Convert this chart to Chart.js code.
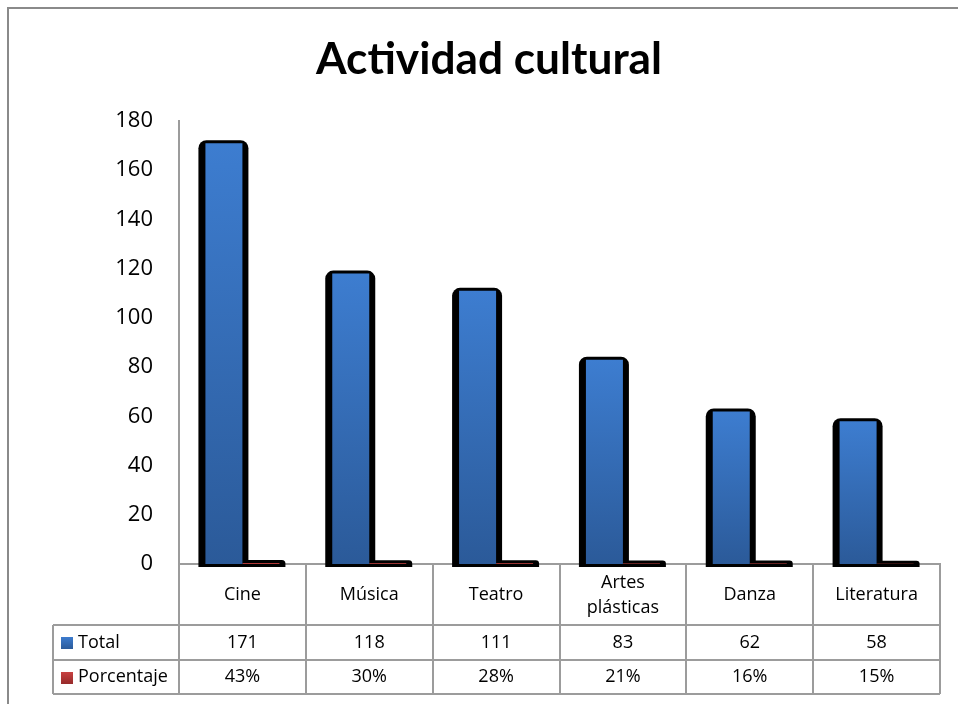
<!DOCTYPE html>
<html>
<head>
<meta charset="utf-8">
<script src="https://cdn.jsdelivr.net/npm/chart.js@4.4.1/dist/chart.umd.min.js"></script>
<style>
  html, body { margin: 0; padding: 0; background: #ffffff; }
  #wrap { width: 958px; height: 704px; }
</style>
</head>
<body>
<div id="wrap"><canvas id="c" width="958" height="704"></canvas></div>
<script>
// ---- data ----
const categories = [['Cine'], ['Música'], ['Teatro'], ['Artes', 'plásticas'], ['Danza'], ['Literatura']];
const seriesNames = ['Total', 'Porcentaje'];
const totalValues = [171, 118, 111, 83, 62, 58];
const porcentajeValues = [0.43, 0.30, 0.28, 0.21, 0.16, 0.15];
const yMin = 0, yMax = 180, yStep = 20;
const titleText = 'Actividad cultural';

const BODY_FONT = '"Open Sans", "Noto Sans", sans-serif';
const GRID = '#9c9c9c';

function barGradient(top, bottom) {
  return function (ctx) {
    const chart = ctx.chart;
    const ys = chart.scales && chart.scales.y;
    if (!ys || !chart.chartArea || ctx.type !== 'data') return top;
    const v = ctx.parsed ? ctx.parsed.y : ctx.raw;
    const p0 = ys.getPixelForValue(0), p1 = ys.getPixelForValue(v);
    if (!isFinite(p0) || !isFinite(p1) || Math.abs(p0 - p1) < 1) return top;
    const g = chart.ctx.createLinearGradient(0, p1, 0, p0);
    g.addColorStop(0, top);
    g.addColorStop(1, bottom);
    return g;
  };
}

const frameTitleShadow = {
  id: 'frameTitleShadow',
  beforeDraw(chart) {
    const c = chart.ctx;
    c.save();
    c.strokeStyle = '#8a8a8a';
    c.lineWidth = 2;
    c.beginPath();
    c.moveTo(8, 704);
    c.lineTo(8, 8);
    c.lineTo(958, 8);
    c.stroke();
    // title (condensed bold, like the original)
    c.fillStyle = '#000';
    c.font = 'bold 43px Lato, "Open Sans", sans-serif';
    c.textAlign = 'center';
    c.textBaseline = 'alphabetic';
    const w = c.measureText(titleText).width;
    const sx = 346 / w;
    c.translate(489, 74);
    c.scale(sx, 1);
    c.fillText(titleText, 0, 0);
    c.restore();
  },
  beforeDatasetsDraw(chart) {
    const c = chart.ctx;
    c.save();
    c.fillStyle = '#000000';
    chart.data.datasets.forEach((ds, i) => {
      const meta = chart.getDatasetMeta(i);
      meta.data.forEach(el => {
        const p = el.getProps(['x', 'y', 'base', 'width'], true);
        const l = p.x - p.width / 2 - 7, r = p.x + p.width / 2 + 6;
        const t = Math.min(p.y, p.base) - 3, b = p.base + 3;
        const rad = Math.min(8, (b - t) / 2, (r - l) / 2);
        c.beginPath();
        c.moveTo(l, b);
        c.lineTo(l, t + rad);
        c.arcTo(l, t, l + rad, t, rad);
        c.lineTo(r - rad, t);
        c.arcTo(r, t, r, t + rad, rad);
        c.lineTo(r, b);
        c.closePath();
        c.fill();
      });
    });
    c.restore();
  }
};

const dataTable = {
  id: 'dataTable',
  afterDraw(chart) {
    const c = chart.ctx;
    const xs = chart.scales.x;
    const top = xs.top;
    const hdrBottom = top + 61, row1Bottom = top + 96, row2Bottom = top + 130;
    const labelLeft = 53;
    c.save();
    c.strokeStyle = GRID;
    c.lineWidth = 2;
    c.beginPath();
    for (let i = 0; i <= categories.length; i++) {
      const px = Math.round(xs.getPixelForValue(i - 0.5));
      c.moveTo(px, top);
      c.lineTo(px, row2Bottom);
    }
    [hdrBottom, row1Bottom, row2Bottom].forEach(yy => {
      c.moveTo(labelLeft, yy);
      c.lineTo(xs.right, yy);
    });
    c.moveTo(labelLeft, hdrBottom);
    c.lineTo(labelLeft, row2Bottom);
    c.stroke();

    c.fillStyle = '#000';
    c.textAlign = 'center';
    c.textBaseline = 'middle';
    c.font = '18px ' + BODY_FONT;
    const hdrMid = (top + hdrBottom) / 2 + 0.5;
    categories.forEach((lab, i) => {
      const cx = xs.getPixelForValue(i);
      const lh = 25;
      const startY = hdrMid - (lab.length - 1) * lh / 2;
      lab.forEach((line, k) => c.fillText(line, cx, startY + k * lh));
    });
    const r1 = (hdrBottom + row1Bottom) / 2, r2 = (row1Bottom + row2Bottom) / 2;
    totalValues.forEach((v, i) => c.fillText(String(v), xs.getPixelForValue(i), r1));
    porcentajeValues.forEach((v, i) => c.fillText(Math.round(v * 100) + '%', xs.getPixelForValue(i), r2));

    // row headers with legend keys
    const keys = [['#3d7dd0', '#2c5c9c'], ['#cc4444', '#9a2c2c']];
    [r1, r2].forEach((ry, k) => {
      const g = c.createLinearGradient(0, ry - 6, 0, ry + 6);
      g.addColorStop(0, keys[k][0]);
      g.addColorStop(1, keys[k][1]);
      c.fillStyle = g;
      c.fillRect(61, Math.round(ry - 5.5), 12, 12);
      c.fillStyle = '#000';
      c.textAlign = 'left';
      c.fillText(seriesNames[k], 78, ry);
    });
    c.restore();
  }
};

new Chart(document.getElementById('c'), {
  type: 'bar',
  data: {
    labels: categories,
    datasets: [
      {
        label: seriesNames[0],
        data: totalValues,
        backgroundColor: barGradient('#3d7dd0', '#2b5a99'),
        borderWidth: 0
      },
      {
        label: seriesNames[1],
        data: porcentajeValues,
        backgroundColor: barGradient('#cc4444', '#9a2c2c'),
        borderWidth: 0
      }
    ]
  },
  options: {
    responsive: false,
    animation: false,
    events: [],
    devicePixelRatio: 1,
    layout: { padding: { left: 0, right: 18, top: 121, bottom: 10 } },
    categoryPercentage: 0.5834,
    barPercentage: 1.0,
    plugins: {
      legend: { display: false },
      tooltip: { enabled: false },
      title: { display: false }
    },
    scales: {
      x: {
        offset: true,
        grid: { display: false, drawTicks: false },
        border: { display: true, color: GRID, width: 2 },
        ticks: { display: false },
        afterFit(scale) { scale.height = 130; }
      },
      y: {
        min: yMin,
        max: yMax,
        grid: { display: false, drawTicks: false },
        border: { display: true, color: GRID, width: 2 },
        ticks: {
          stepSize: yStep,
          padding: 26,
          color: '#000',
          font: { family: BODY_FONT, size: 22 }
        },
        afterFit(scale) { scale.width = 179; }
      }
    }
  },
  plugins: [frameTitleShadow, dataTable]
});
</script>
</body>
</html>
